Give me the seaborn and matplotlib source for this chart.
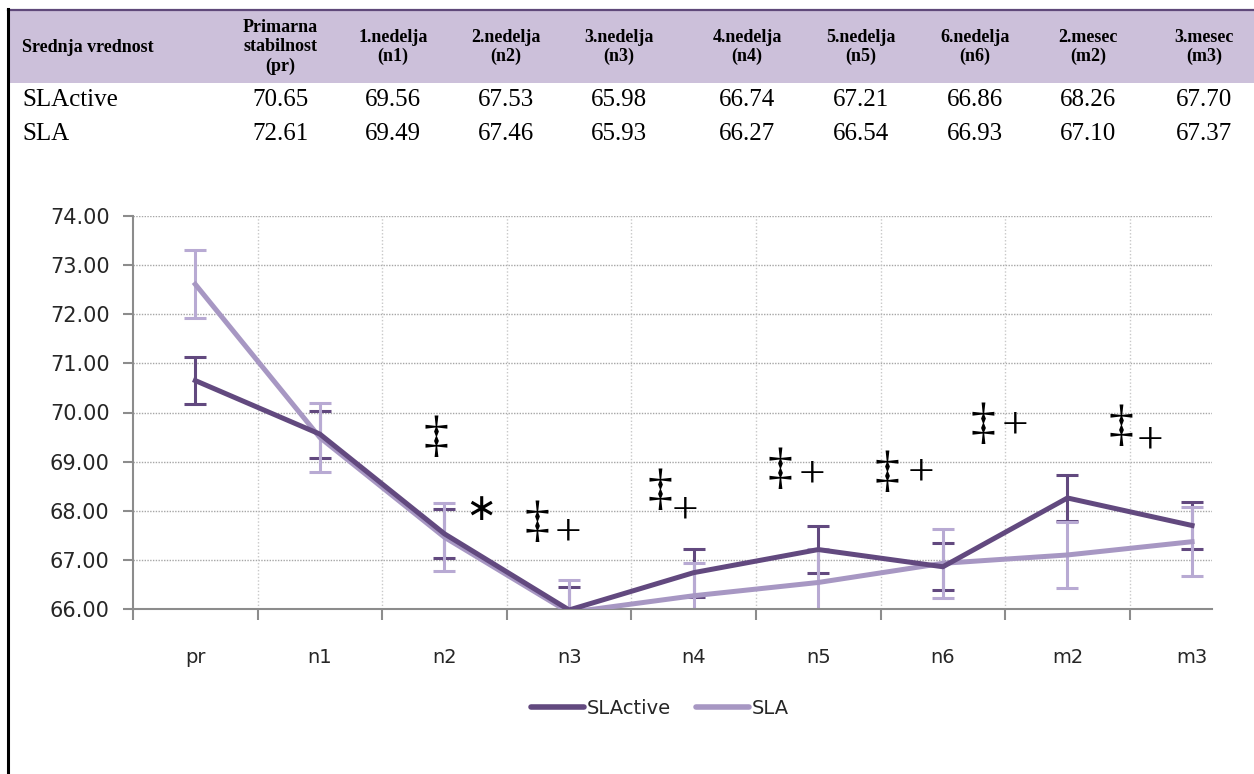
import numpy as np
import pandas as pd
import matplotlib
matplotlib.use("Agg")
import matplotlib.pyplot as plt
import seaborn as sns
from matplotlib.lines import Line2D
from matplotlib.patches import Rectangle

# ---------------- data ----------------
categories = ["pr", "n1", "n2", "n3", "n4", "n5", "n6", "m2", "m3"]
header_first = "Srednja vrednost"
header_labels = ["Primarna\nstabilnost\n(pr)", "1.nedelja\n(n1)", "2.nedelja\n(n2)",
                 "3.nedelja\n(n3)", "4.nedelja\n(n4)", "5.nedelja\n(n5)",
                 "6.nedelja\n(n6)", "2.mesec\n(m2)", "3.mesec\n(m3)"]
series_names = ["SLActive", "SLA"]
slactive = [70.65, 69.56, 67.53, 65.98, 66.74, 67.21, 66.86, 68.26, 67.70]
sla = [72.61, 69.49, 67.46, 65.93, 66.27, 66.54, 66.93, 67.10, 67.37]
slactive_err = [0.48, 0.48, 0.50, 0.47, 0.49, 0.48, 0.48, 0.47, 0.48]
sla_err = [0.69, 0.70, 0.69, 0.67, 0.66, 0.69, 0.70, 0.68, 0.70]
yticks = [66, 67, 68, 69, 70, 71, 72, 73, 74]

# significance markers (category position, value, symbol)
mark_x = [1.93, 2.29, 2.74, 2.99, 3.73, 3.93, 4.69, 4.95, 5.55, 5.82, 6.32, 6.58, 7.43, 7.66]
mark_y = [69.58, 68.01, 67.85, 67.65, 68.50, 68.09, 68.93, 68.83, 68.87, 68.87, 69.85, 69.81, 69.81, 69.52]
mark_sym = ["‡", "*", "‡", "+", "‡", "+", "‡", "+", "‡", "+", "‡", "+", "‡", "+"]

# ---------------- style ----------------
dark = "#62497F"
light = "#A797C3"
light_err = "#B8AAD3"
band = "#CCC0DA"

W, H = 1254, 774
fig = plt.figure(figsize=(W / 100, H / 100), dpi=100)
fig.patch.set_facecolor("white")

def fx(px):
    return px / W

def fy(py):
    return 1 - py / H

# ---------------- table ----------------
fig.add_artist(Rectangle((fx(9), fy(83)), fx(W - 9), fy(11) - fy(83),
                         transform=fig.transFigure, facecolor=band, edgecolor="none"))
fig.add_artist(Line2D([fx(8), 1], [fy(10), fy(10)], transform=fig.transFigure,
                      color="#5F497A", lw=1.6))
fig.add_artist(Line2D([fx(8), fx(8)], [fy(9), 0], transform=fig.transFigure,
                      color="black", lw=2.2))

col_x = [280, 393, 506, 619, 747, 861, 975, 1088, 1204]
serif = ["Liberation Serif", "DejaVu Serif"]
fig.text(fx(22), fy(48), header_first, family=serif, fontweight="bold",
         fontsize=13, ha="left", va="center")
for cx, lab in zip(col_x, header_labels):
    fig.text(fx(cx), fy(47), lab, family=serif, fontweight="bold", fontsize=13,
             ha="center", va="center", linespacing=1.15)
row_y = [100, 134]
for ry, name, vals in zip(row_y, series_names, [slactive, sla]):
    fig.text(fx(22), fy(ry), name, family=serif, fontsize=18, ha="left", va="center")
    for cx, v in zip(col_x, vals):
        fig.text(fx(cx), fy(ry), f"{v:.2f}", family=serif, fontsize=18,
                 ha="center", va="center")

# ---------------- chart ----------------
ax = fig.add_axes([fx(133), fy(609), fx(1212) - fx(133), fy(216) - fy(609)])
xpos = np.arange(len(categories))
df = pd.DataFrame({
    "x": np.concatenate([xpos, xpos]),
    "value": slactive + sla,
    "series": [series_names[0]] * len(categories) + [series_names[1]] * len(categories),
})

ax.errorbar(xpos, slactive, yerr=slactive_err, fmt="none", ecolor=dark,
            elinewidth=2.2, capsize=8, capthick=2.2, zorder=2)
ax.errorbar(xpos, sla, yerr=sla_err, fmt="none", ecolor=light_err,
            elinewidth=2.2, capsize=8, capthick=2.2, zorder=2)
sns.lineplot(data=df, x="x", y="value", hue="series", hue_order=series_names,
             palette=[dark, light], linewidth=3.6, legend=False, ax=ax,
             errorbar=None, zorder=3)
for ln in ax.get_lines():
    if matplotlib.colors.same_color(ln.get_color(), dark):
        ln.set_zorder(4)

ax.set_xlim(-0.5, 8.16)
ax.set_ylim(66, 74)
ax.set_yticks(yticks)
ax.set_yticklabels([f"{t:.2f}" for t in yticks])
ax.set_xticks(xpos)
ax.set_xticklabels(categories)
ax.set_xticks(np.arange(-0.5, 8.0, 1.0), minor=True)
ax.set_xlabel("")
ax.set_ylabel("")

for s in ["top", "right"]:
    ax.spines[s].set_visible(False)
for s in ["left", "bottom"]:
    ax.spines[s].set_color("#8C8C8C")
    ax.spines[s].set_linewidth(1.5)

ax.grid(False)
for t in yticks[1:]:
    ax.axhline(t, color="#A6A6A6", lw=1.0, ls=(0, (1, 1)), zorder=0)
for b in np.arange(0.5, 8.0, 1.0):
    ax.axvline(b, color="#C8C8C8", lw=1.0, ls=(0, (1, 1.5)), zorder=0)

ax.tick_params(axis="y", direction="out", length=7, width=1.5, color="#8C8C8C",
               pad=10, labelsize=15, labelcolor="#262626")
ax.tick_params(axis="x", which="major", length=0, pad=28, labelsize=14,
               labelcolor="#262626")
ax.tick_params(axis="x", which="minor", direction="out", length=8, width=1.5,
               color="#8C8C8C")

for x, y, s in zip(mark_x, mark_y, mark_sym):
    if s == "‡":
        ax.text(x, y - 0.12, s, family=serif, fontsize=36,
                ha="center", va="center", color="black", zorder=5)
    elif s == "+":
        ax.text(x, y - 0.1, s, family=serif, fontsize=34, ha="center", va="center",
                color="black", zorder=5)
    else:
        ax.text(x, y, "∗", family=["DejaVu Sans"], fontsize=27, ha="center",
                va="center", color="black", zorder=5)

handles = [Line2D([0], [0], color=dark, lw=4, solid_capstyle="round"),
           Line2D([0], [0], color=light, lw=4, solid_capstyle="round")]
fig.legend(handles, series_names, loc="center", bbox_to_anchor=(fx(660), fy(708)),
           ncol=2, frameon=False, fontsize=14, handlelength=2.7, handletextpad=0.15,
           columnspacing=1.3, labelcolor="#262626")

fig.savefig("out.png", dpi=100, facecolor="white")
